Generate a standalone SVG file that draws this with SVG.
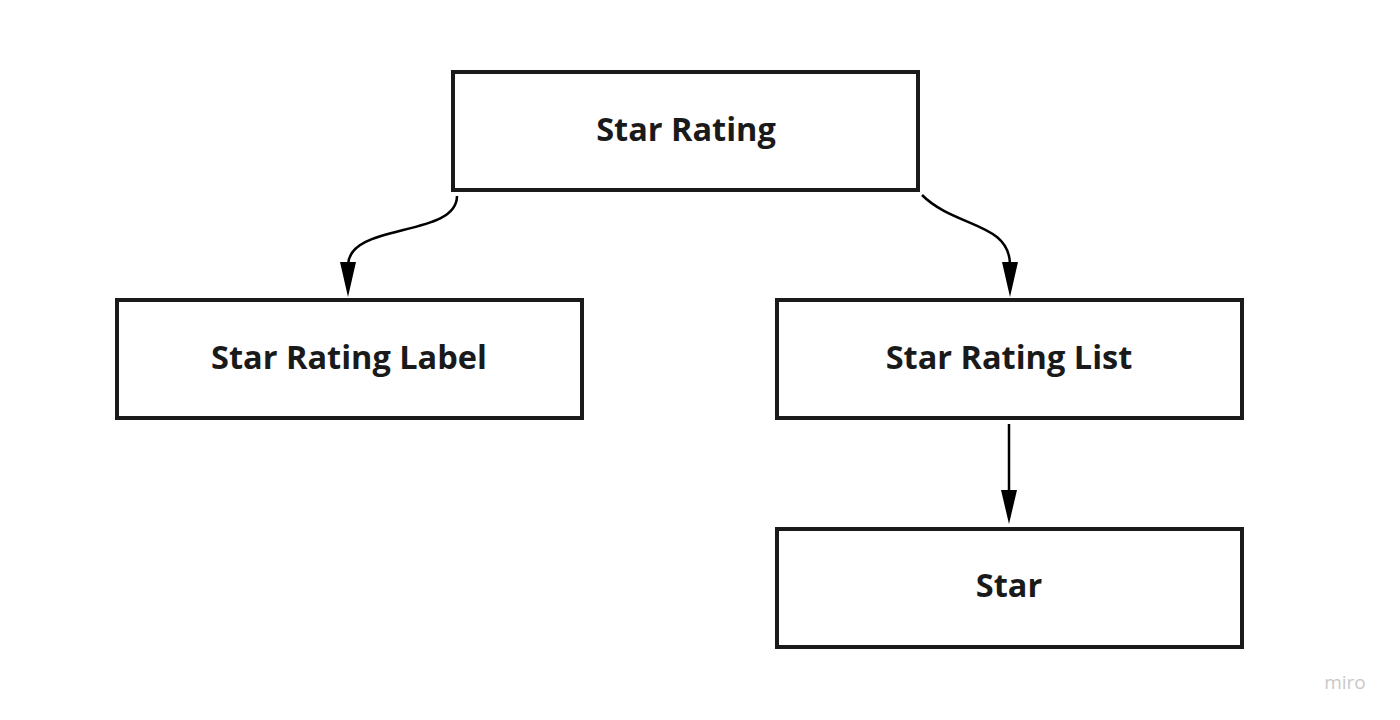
<svg xmlns="http://www.w3.org/2000/svg" width="1400" height="720" viewBox="0 0 1400 720">
<defs>
<style>
.box{fill:#fff;stroke:#1a1a1a;stroke-width:4}
.lbl{font-family:"Open Sans","Liberation Sans",sans-serif;font-weight:bold;font-size:32.5px;fill:#1a1a1a;text-anchor:middle}
.edge{fill:none;stroke:#000;stroke-width:2.5}
.head{fill:#000}
</style>
</defs>
<rect width="1400" height="720" fill="#fff"/>
<g id="connectors">
<path class="edge" d="M457,196 C457,238 349,222 348,265"/>
<polygon class="head" points="348,297 340,262 356,262"/>
<path class="edge" d="M922,195 C955,228 1010,222 1010,265"/>
<polygon class="head" points="1010,297 1002,262 1018,262"/>
<path class="edge" d="M1009,424 L1009,492"/>
<polygon class="head" points="1009,524 1001,490 1017,490"/>
</g>
<g id="star-rating">
<rect class="box" x="453" y="72" width="465" height="118"/>
<text class="lbl" x="686" y="141">Star Rating</text>
</g>
<g id="star-rating-label">
<rect class="box" x="117" y="300" width="465" height="118"/>
<text class="lbl" x="349" y="369">Star Rating Label</text>
</g>
<g id="star-rating-list">
<rect class="box" x="777" y="300" width="465" height="118"/>
<text class="lbl" x="1009" y="369">Star Rating List</text>
</g>
<g id="star">
<rect class="box" x="777" y="529" width="465" height="118"/>
<text class="lbl" x="1009" y="597">Star</text>
</g>
<text x="1345" y="689" font-family="Open Sans, Liberation Sans, sans-serif" font-size="19" fill="#c8c8c8" text-anchor="middle">miro</text>
</svg>
